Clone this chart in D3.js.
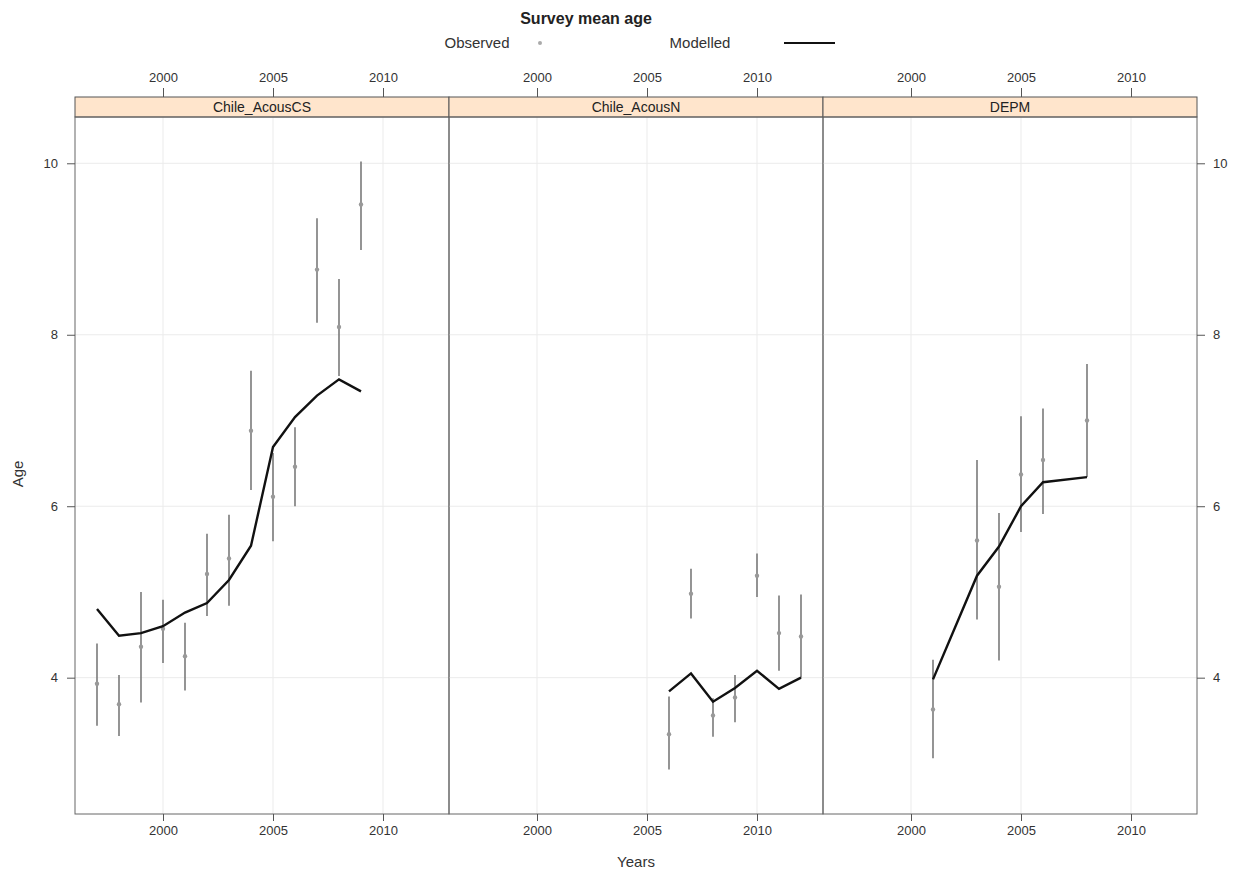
<!DOCTYPE html>
<html>
<head>
<meta charset="utf-8">
<script src="https://cdn.jsdelivr.net/npm/d3@7"></script>
<style>
  body { margin: 0; background: #fff; }
  text { font-family: "Liberation Sans", Arial, sans-serif; fill: #222; }
</style>
</head>
<body>
<svg id="chart"></svg>
<script>
const width = 1242;
const height = 879;

// panel names
const panels = ["Chile_AcousCS", "Chile_AcousN", "DEPM"];

// Chile_AcousCS
const csYears = [1997, 1998, 1999, 2000, 2001, 2002, 2003, 2004, 2005, 2006, 2007, 2008, 2009];
const csObs   = [3.93, 3.69, 4.36, 4.57, 4.25, 5.21, 5.39, 6.88, 6.11, 6.46, 8.76, 8.09, 9.52];
const csLo    = [3.44, 3.32, 3.71, 4.17, 3.85, 4.72, 4.84, 6.19, 5.59, 6.00, 8.14, 7.52, 8.99];
const csHi    = [4.40, 4.03, 5.00, 4.91, 4.64, 5.68, 5.90, 7.58, 6.62, 6.92, 9.36, 8.65, 10.02];
const csModel = [4.80, 4.49, 4.52, 4.60, 4.76, 4.87, 5.14, 5.54, 6.69, 7.04, 7.29, 7.48, 7.34];

// Chile_AcousN
const nYears = [2006, 2007, 2008, 2009, 2010, 2011, 2012];
const nObs   = [3.34, 4.98, 3.56, 3.77, 5.19, 4.52, 4.48];
const nLo    = [2.93, 4.69, 3.31, 3.48, 4.94, 4.08, 4.00];
const nHi    = [3.78, 5.27, 3.76, 4.03, 5.45, 4.96, 4.97];
const nModel = [3.84, 4.05, 3.72, 3.88, 4.08, 3.87, 4.00];

// DEPM
const dYears = [2001, 2003, 2004, 2005, 2006, 2008];
const dObs   = [3.63, 5.60, 5.06, 6.37, 6.54, 7.00];
const dLo    = [3.06, 4.68, 4.20, 5.70, 5.91, 6.34];
const dHi    = [4.21, 6.54, 5.92, 7.05, 7.14, 7.66];
const dModel = [3.98, 5.19, 5.53, 6.00, 6.28, 6.34];

const xTicks = [2000, 2005, 2010];
const yTicks = [4, 6, 8, 10];

const series = [
  {years: csYears, obs: csObs, lo: csLo, hi: csHi, model: csModel},
  {years: nYears, obs: nObs, lo: nLo, hi: nHi, model: nModel},
  {years: dYears, obs: dObs, lo: dLo, hi: dHi, model: dModel}
];

const svg = d3.select("#chart")
    .attr("width", width)
    .attr("height", height);

const left = 75, panelW = 374;
const stripTop = 97, stripH = 20;
const plotTop = stripTop + stripH, plotBottom = 814;

const y = d3.scaleLinear()
    .domain([2.41, 10.54])
    .range([plotBottom, plotTop]);

const panelX = d3.scaleBand()
    .domain(panels)
    .range([left, left + panelW * panels.length]);

// title + legend
svg.append("text")
    .attr("x", 586).attr("y", 24)
    .attr("text-anchor", "middle")
    .style("font-size", "16px").style("font-weight", "bold")
    .text("Survey mean age");

svg.append("text")
    .attr("x", 477).attr("y", 48)
    .attr("text-anchor", "middle")
    .style("font-size", "15px").style("fill", "#333")
    .text("Observed");
svg.append("circle")
    .attr("cx", 540).attr("cy", 43).attr("r", 2)
    .attr("fill", "#aaa");
svg.append("text")
    .attr("x", 700).attr("y", 48)
    .attr("text-anchor", "middle")
    .style("font-size", "15px").style("fill", "#333")
    .text("Modelled");
svg.append("line")
    .attr("x1", 784).attr("x2", 835)
    .attr("y1", 43).attr("y2", 43)
    .attr("stroke", "#111").attr("stroke-width", 2);

const line = d3.line();

panels.forEach(function(name, i) {
  const x0 = panelX(name);
  const x = d3.scaleLinear()
      .domain([1996, 2013])
      .range([x0, x0 + panelW]);
  const s = series[i];
  const g = svg.append("g");

  // grid
  g.selectAll(".gx").data(xTicks).enter().append("line")
      .attr("x1", d => x(d)).attr("x2", d => x(d))
      .attr("y1", plotTop).attr("y2", plotBottom)
      .attr("stroke", "#ebebeb");
  g.selectAll(".gy").data(yTicks).enter().append("line")
      .attr("x1", x0).attr("x2", x0 + panelW)
      .attr("y1", d => y(d)).attr("y2", d => y(d))
      .attr("stroke", "#ebebeb");

  // error bars
  g.selectAll(".err").data(s.years).enter().append("line")
      .attr("x1", d => x(d)).attr("x2", d => x(d))
      .attr("y1", (d, j) => y(s.lo[j]))
      .attr("y2", (d, j) => y(s.hi[j]))
      .attr("stroke", "#7a7a7a").attr("stroke-width", 1.6);

  // observed points
  g.selectAll(".pt").data(s.years).enter().append("circle")
      .attr("cx", d => x(d))
      .attr("cy", (d, j) => y(s.obs[j]))
      .attr("r", 2.2)
      .attr("fill", "#999");

  // modelled line
  g.append("path")
      .attr("d", line(s.years.map((d, j) => [x(d), y(s.model[j])])))
      .attr("fill", "none")
      .attr("stroke", "#111")
      .attr("stroke-width", 2.4);

  // strip
  g.append("rect")
      .attr("x", x0).attr("y", stripTop)
      .attr("width", panelW).attr("height", stripH)
      .attr("fill", "#ffe5cc")
      .attr("stroke", "#555");
  g.append("text")
      .attr("x", x0 + panelW / 2).attr("y", stripTop + 15)
      .attr("text-anchor", "middle")
      .style("font-size", "14px")
      .text(name);

  // panel border
  g.append("rect")
      .attr("x", x0).attr("y", plotTop)
      .attr("width", panelW).attr("height", plotBottom - plotTop)
      .attr("fill", "none")
      .attr("stroke", "#666");

  // top and bottom axes
  const top = svg.append("g").attr("transform", `translate(0,${stripTop})`)
      .call(d3.axisTop(x).tickValues(xTicks).tickFormat(d3.format("d")).tickSize(9).tickPadding(6));
  const bottom = svg.append("g").attr("transform", `translate(0,${plotBottom})`)
      .call(d3.axisBottom(x).tickValues(xTicks).tickFormat(d3.format("d")).tickSize(7).tickPadding(5));
  [top, bottom].forEach(function(a) {
    a.select(".domain").remove();
    a.selectAll("line").attr("stroke", "#555");
    a.selectAll("text").style("font-size", "13px").style("fill", "#333")
        .style("font-family", "Liberation Sans, Arial, sans-serif");
  });
});

// y axes
const yl = svg.append("g").attr("transform", `translate(${left},0)`)
    .call(d3.axisLeft(y).tickValues(yTicks).tickSize(8).tickPadding(9));
const yr = svg.append("g").attr("transform", `translate(${left + panelW * 3},0)`)
    .call(d3.axisRight(y).tickValues(yTicks).tickSize(8).tickPadding(8));
[yl, yr].forEach(function(a) {
  a.select(".domain").remove();
  a.selectAll("line").attr("stroke", "#555");
  a.selectAll("text").style("font-size", "13px").style("fill", "#333")
      .style("font-family", "Liberation Sans, Arial, sans-serif");
});

// axis titles
svg.append("text")
    .attr("x", 636).attr("y", 867)
    .attr("text-anchor", "middle")
    .style("font-size", "15px").style("fill", "#333")
    .text("Years");
svg.append("text")
    .attr("transform", "translate(23,474) rotate(-90)")
    .attr("text-anchor", "middle")
    .style("font-size", "15px").style("fill", "#333")
    .text("Age");
</script>
</body>
</html>
